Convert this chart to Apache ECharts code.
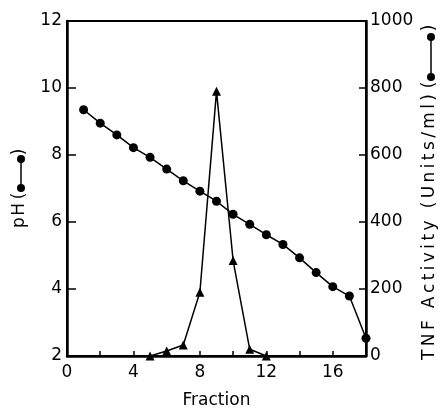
<!DOCTYPE html>
<html>
<head>
<meta charset="utf-8">
<script src="https://cdn.jsdelivr.net/npm/echarts@6/dist/echarts.min.js"></script>
<style>
    html, body { margin: 0; padding: 0; background: #fff; }
    #chart { width: 440px; height: 408px; }
</style>
</head>
<body>
<div id="chart"></div>
<script>
    // pH of each fraction (circles, left axis)
    var phFractions = [1, 2, 3, 4, 5, 6, 7, 8, 9, 10, 11, 12, 13, 14, 15, 16, 17, 18];
    var phValues = [9.35, 8.95, 8.6, 8.22, 7.93, 7.58, 7.23, 6.92, 6.62, 6.23, 5.93, 5.62, 5.33, 4.93, 4.49, 4.07, 3.79, 2.53];
    // TNF activity (triangles, right axis)
    var tnfFractions = [5, 6, 7, 8, 9, 10, 11, 12];
    var tnfValues = [0, 15, 33, 190, 790, 285, 20, 0];

    var xTicks = [0, 4, 8, 12, 16];

    function pairs(xs, ys) {
        var out = [];
        for (var i = 0; i < xs.length; i++) {
            out.push([xs[i], ys[i]]);
        }
        return out;
    }

    var font = 'DejaVu Sans';
    var fontCss = '17px ' + font;
    var myChart = echarts.init(document.getElementById('chart'));

    var ctx = document.createElement('canvas').getContext('2d');
    ctx.font = fontCss;

    function txt(x, s, align) {
        return { type: 'text', x: x, y: 0, style: { text: s, font: fontCss, fill: '#000', align: align || 'center', verticalAlign: 'middle' } };
    }

    // lay a string out letter by letter so it fills [from, to] (the old typewriter look)
    function spaced(s, from, to) {
        var widths = [], total = 0, out = [];
        for (var i = 0; i < s.length; i++) {
            widths.push(ctx.measureText(s[i]).width);
            total += widths[i];
        }
        var gap = (to - from - total) / (s.length - 1);
        var pos = from;
        for (var j = 0; j < s.length; j++) {
            if (s[j] !== ' ') out.push(txt(pos, s[j], 'left'));
            pos += widths[j] + gap;
        }
        return out;
    }

    // rotated axis titles with the little circle-line-circle key
    function keyGroup(cx, cy, title, from, to, d1, d2, p1, p2) {
        var kids = spaced(title, from, to);
        kids.push(txt(p1, '('));
        kids.push(txt(p2, ')'));
        kids.push({ type: 'line', shape: { x1: d1, y1: 1, x2: d2, y2: 1 }, style: { stroke: '#000', lineWidth: 1.5 } });
        kids.push({ type: 'circle', shape: { cx: d1, cy: 1, r: 4 }, style: { fill: '#000' } });
        kids.push({ type: 'circle', shape: { cx: d2, cy: 1, r: 4 }, style: { fill: '#000' } });
        return { type: 'group', x: cx, y: cy, rotation: Math.PI / 2, children: kids };
    }

    var option = {
        animation: false,
        grid: {
            left: 67,
            right: 74,
            top: 21,
            bottom: 52,
            containLabel: false,
            outerBoundsMode: 'none',
            show: true,
            borderColor: '#000',
            borderWidth: 2
        },
        xAxis: {
            type: 'value',
            min: 0,
            max: 18,
            interval: 2,
            name: 'Fraction',
            nameLocation: 'middle',
            nameGap: 36,
            nameTextStyle: { color: '#000', fontSize: 17, fontFamily: font },
            axisLine: { lineStyle: { color: '#000', width: 2.5 } },
            axisTick: { inside: true, length: 5, lineStyle: { color: '#000', width: 1.5 } },
            axisLabel: {
                color: '#000',
                fontSize: 17,
                fontFamily: font,
                margin: 8,
                formatter: function (v) { return xTicks.indexOf(v) >= 0 ? String(v) : ''; }
            },
            splitLine: { show: false }
        },
        yAxis: [
            {
                type: 'value',
                min: 2,
                max: 12,
                interval: 2,
                axisLine: { show: true, lineStyle: { color: '#000', width: 2.5 } },
                axisTick: { inside: true, length: 9, lineStyle: { color: '#000', width: 1.5 } },
                axisLabel: { color: '#000', fontSize: 17, fontFamily: font, margin: 5 },
                splitLine: { show: false }
            },
            {
                type: 'value',
                min: 0,
                max: 1000,
                interval: 200,
                position: 'right',
                axisLine: { show: true, lineStyle: { color: '#000', width: 2.5 } },
                axisTick: { inside: true, length: 7, lineStyle: { color: '#000', width: 1.5 } },
                axisLabel: {
                    color: '#000', fontSize: 17, fontFamily: font, margin: 4,
                    formatter: function (v) { return String(v); }
                },
                splitLine: { show: false }
            }
        ],
        graphic: [
            keyGroup(20, 190, 'pH', -38, -13, 2, 31, -6, 38),
            keyGroup(430, 190, 'TNF Activity (Units/ml)', -170, 96, 113, 153, 105, 162)
        ],
        series: [
            {
                name: 'pH',
                type: 'line',
                yAxisIndex: 0,
                data: pairs(phFractions, phValues),
                symbol: 'circle',
                symbolSize: 9,
                itemStyle: { color: '#000' },
                lineStyle: { color: '#000', width: 1.5 }
            },
            {
                name: 'TNF',
                type: 'line',
                yAxisIndex: 1,
                data: pairs(tnfFractions, tnfValues),
                symbol: 'triangle',
                symbolSize: 9,
                itemStyle: { color: '#000' },
                lineStyle: { color: '#000', width: 1.5 }
            }
        ]
    };
    myChart.setOption(option);
</script>
</body>
</html>
